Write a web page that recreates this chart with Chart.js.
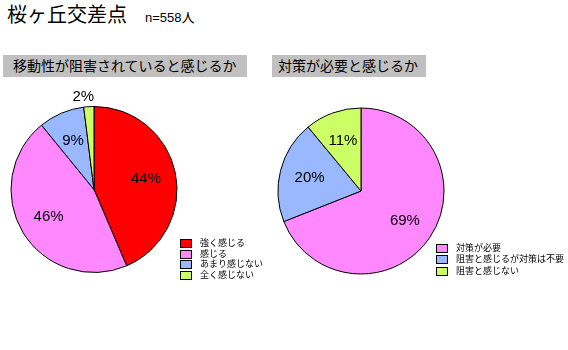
<!DOCTYPE html>
<html><head><meta charset="utf-8">
<script src="https://cdn.jsdelivr.net/npm/chart.js@4/dist/chart.umd.min.js"></script>
<style>
html,body{margin:0;padding:0;background:#fff;width:568px;height:350px;overflow:hidden;font-family:"Liberation Sans","Noto Sans CJK JP",sans-serif;color:#000}
.abs{position:absolute}
#title{left:7px;top:2px;font-size:20px;line-height:26px;white-space:nowrap}
#n{left:145px;top:10px;font-size:13px;line-height:16px}
.hdr{background:#c0c0c0;font-size:14px;line-height:22px;height:22px;top:55px;white-space:nowrap}
.leg{font-size:9px;white-space:nowrap}
.leg div{height:10.7px;line-height:10.7px;display:flex;align-items:center}
.leg span.b{display:inline-block;width:10px;height:7px;border:1px solid #000;margin-right:8px}
</style></head>
<body>
<div id="title" class="abs">桜ヶ丘交差点</div>
<div id="n" class="abs">n=558人</div>
<div class="abs hdr" style="left:3px;width:234px;padding-left:10px">移動性が阻害されていると感じるか</div>
<div class="abs hdr" style="left:272px;width:148px;padding-left:6px">対策が必要と感じるか</div>
<div class="abs" style="left:0;top:80px;width:190px;height:200px"><canvas id="c1"></canvas></div>
<div class="abs" style="left:270px;top:80px;width:190px;height:200px"><canvas id="c2"></canvas></div>
<div id="leg1" class="abs leg" style="left:180px;top:238px"></div>
<div id="leg2" class="abs leg" style="left:436px;top:243px;"></div>
<script>
const leftCategories = ["強く感じる","感じる","あまり感じない","全く感じない"];
const leftValues = [44,46,9,2];
const leftColors = ["#ff0000","#ff88ff","#99b8ff","#ccff66"];
const rightCategories = ["対策が必要","阻害と感じるが対策は不要","阻害と感じない"];
const rightValues = [69,20,11];
const rightColors = ["#ff88ff","#99b8ff","#ccff66"];

const pctLabels = {
  id:'pctLabels',
  afterDatasetsDraw(chart){
    const ctx = chart.ctx;
    const meta = chart.getDatasetMeta(0);
    const data = chart.data.datasets[0].data;
    ctx.save();
    ctx.font = '15px "Liberation Sans","DejaVu Sans",sans-serif';
    ctx.fillStyle = '#000';
    ctx.textAlign = 'center';
    ctx.textBaseline = 'middle';
    meta.data.forEach((arc,i)=>{
      const p = arc.getProps(['x','y','startAngle','endAngle','outerRadius'],true);
      const mid = (p.startAngle+p.endAngle)/2;
      const small = data[i] < 5;
      const r = small ? p.outerRadius + 10 : p.outerRadius*0.64;
      const dx = small ? -5 : 0;
      ctx.fillText(data[i]+'%', p.x + Math.cos(mid)*r + dx, p.y + Math.sin(mid)*r);
    });
    ctx.restore();
  }
};

function makePie(id, labels, values, colors, padding){
  new Chart(document.getElementById(id), {
    type:'pie',
    data:{labels:labels, datasets:[{data:values, backgroundColor:colors, borderColor:'#000', borderWidth:1}]},
    options:{
      responsive:true, maintainAspectRatio:false, animation:false,
      layout:{padding:padding},
      plugins:{legend:{display:false}, tooltip:{enabled:false}}
    },
    plugins:[pctLabels]
  });
}
makePie('c1', leftCategories, leftValues, leftColors, {left:10.5,right:12.5,top:26,bottom:7});
makePie('c2', rightCategories, rightValues, rightColors, {left:7.5,right:15.5,top:27.5,bottom:5.5});

function makeLegend(id, labels, colors, rowH){
  const el = document.getElementById(id);
  labels.forEach((l,i)=>{
    const d = document.createElement('div');
    d.style.height = rowH+'px'; d.style.lineHeight = rowH+'px';
    const b = document.createElement('span'); b.className='b'; b.style.background = colors[i];
    d.appendChild(b); d.appendChild(document.createTextNode(l));
    el.appendChild(d);
  });
}
makeLegend('leg1', leftCategories, leftColors, 10.7);
makeLegend('leg2', rightCategories, rightColors, 11.3);
</script>
</body></html>
